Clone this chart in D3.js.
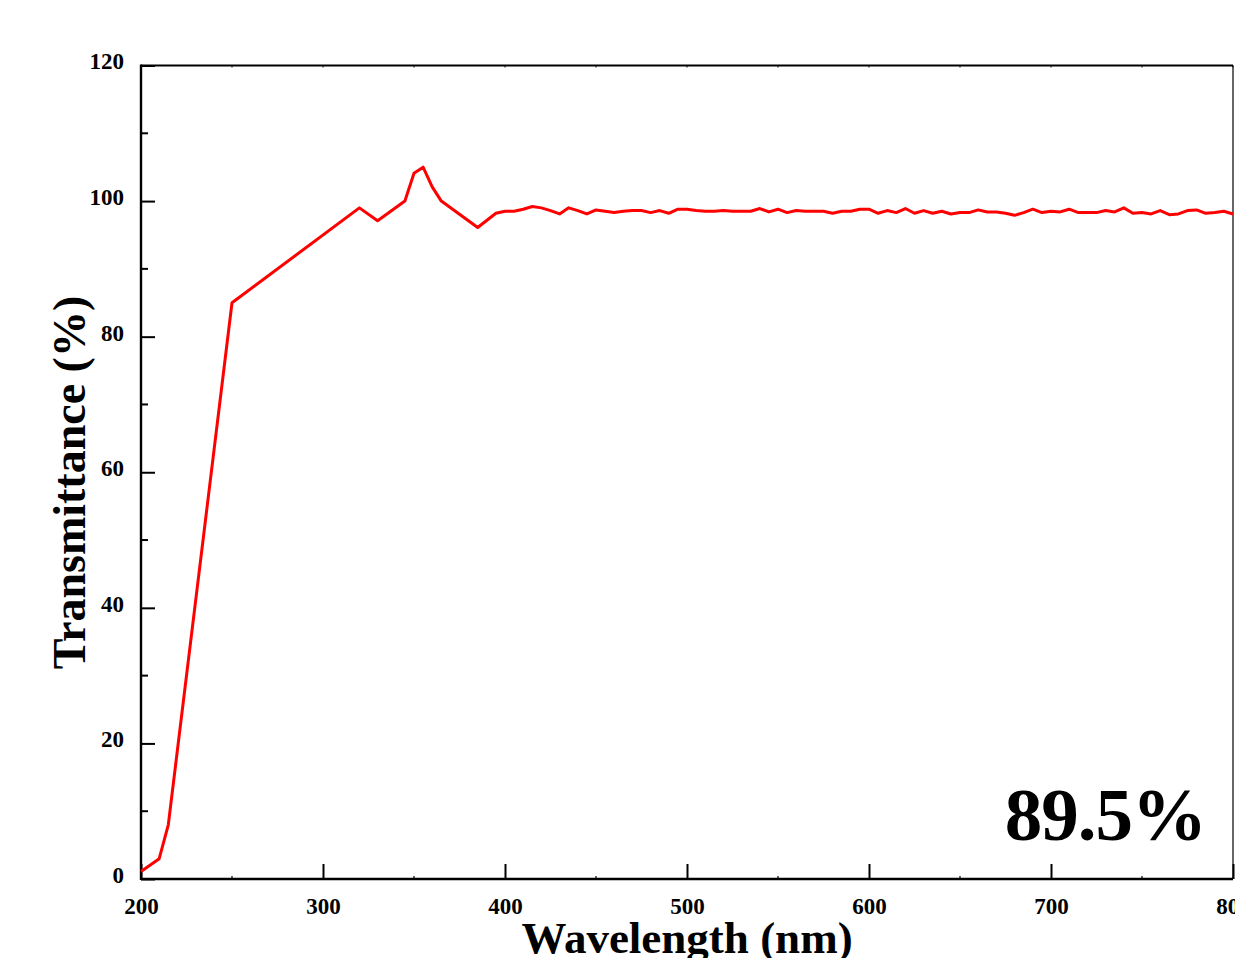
<!DOCTYPE html>
<html>
<head>
<meta charset="utf-8">
<script src="https://cdn.jsdelivr.net/npm/d3@7"></script>
<style>
  html, body { margin: 0; padding: 0; background: #fff; overflow: hidden; }
  text { font-family: "Liberation Serif", "Times New Roman", serif; font-weight: bold; fill: #000; }
</style>
</head>
<body>
<svg id="chart" width="1235" height="958"></svg>
<script>
// wavelength (nm) and transmittance (%)
const wavelength = [200, 210, 215, 250, 320, 330, 345, 350, 355, 360, 365, 385,
  395, 400, 405, 410, 415, 420, 425, 430, 435, 440, 445, 450, 455, 460, 465, 470, 475,
  480, 485, 490, 495, 500, 505, 510, 515, 520, 525, 530, 535, 540, 545, 550, 555, 560,
  565, 570, 575, 580, 585, 590, 595, 600, 605, 610, 615, 620, 625, 630, 635, 640, 645,
  650, 655, 660, 665, 670, 675, 680, 685, 690, 695, 700, 705, 710, 715, 720, 725, 730,
  735, 740, 745, 750, 755, 760, 765, 770, 775, 780, 785, 790, 795, 800];
const transmittance = [1.1, 3.0, 8.0, 85.0, 99.0, 97.1, 100.0, 104.1, 105.0, 102.1, 100.0, 96.1,
  98.2, 98.5, 98.5, 98.8, 99.2, 99.0, 98.6, 98.1, 99.0, 98.6, 98.1, 98.7, 98.5, 98.3, 98.5, 98.6, 98.6,
  98.3, 98.6, 98.2, 98.8, 98.8, 98.6, 98.5, 98.5, 98.6, 98.5, 98.5, 98.5, 98.9, 98.4, 98.8, 98.3, 98.6,
  98.5, 98.5, 98.5, 98.2, 98.5, 98.5, 98.8, 98.8, 98.2, 98.6, 98.3, 98.9, 98.2, 98.6, 98.2, 98.5, 98.1,
  98.3, 98.3, 98.7, 98.4, 98.4, 98.2, 97.9, 98.3, 98.8, 98.3, 98.5, 98.4, 98.8, 98.3, 98.3, 98.3, 98.6,
  98.4, 99.0, 98.2, 98.3, 98.1, 98.6, 98.0, 98.1, 98.6, 98.7, 98.2, 98.3, 98.5, 98.1];

const xTicks = [200, 300, 400, 500, 600, 700, 800];
const xMinor = [250, 350, 450, 550, 650, 750];
const yTicks = [0, 20, 40, 60, 80, 100, 120];
const yMinor = [10, 30, 50, 70, 90, 110];
const xTitle = "Wavelength (nm)";
const yTitle = "Transmittance (%)";
const note = "89.5%";

const data = wavelength.map((w, i) => ({ w: w, t: transmittance[i] }));

const svg = d3.select("#chart");
const plotLeft = 141, plotRight = 1233, plotTop = 65.5, plotBottom = 879;

const x = d3.scaleLinear().domain([200, 800]).range([plotLeft, plotRight]);
const y = d3.scaleLinear().domain([0, 120]).range([plotBottom, plotTop]);

// frame
svg.append("line").attr("x1", plotLeft).attr("x2", plotRight).attr("y1", plotTop).attr("y2", plotTop)
  .attr("stroke", "#000").attr("stroke-width", 2);
svg.append("line").attr("x1", plotRight).attr("x2", plotRight).attr("y1", plotTop).attr("y2", plotBottom)
  .attr("stroke", "#000").attr("stroke-width", 1.2);

// bottom axis, ticks pointing in
const xAxis = svg.append("g")
  .attr("transform", `translate(0,${plotBottom})`)
  .call(d3.axisBottom(x).tickValues(xTicks).tickSize(-15).tickFormat(d3.format("d")));
xAxis.select(".domain").attr("stroke-width", 2.4).attr("d", `M${plotLeft},0H${plotRight}`);
xAxis.selectAll(".tick line").attr("stroke-width", 2);
xAxis.selectAll(".tick text").attr("font-size", 23).attr("dy", "0.71em").attr("y", 19);

svg.append("g").selectAll("line").data(xMinor).join("line")
  .attr("x1", d => x(d)).attr("x2", d => x(d))
  .attr("y1", plotBottom).attr("y2", plotBottom - 3)
  .attr("stroke", "#000").attr("stroke-width", 1.2);
svg.append("g").selectAll("line").data(xTicks.concat(xMinor)).join("line")
  .attr("x1", d => x(d)).attr("x2", d => x(d))
  .attr("y1", plotTop).attr("y2", plotTop + 2)
  .attr("stroke", "#000").attr("stroke-width", 1);

// left axis, ticks pointing in
const yAxis = svg.append("g")
  .attr("transform", `translate(${plotLeft},0)`)
  .call(d3.axisLeft(y).tickValues(yTicks).tickSize(-14).tickFormat(d3.format("d")));
yAxis.select(".domain").attr("stroke-width", 2.4).attr("d", `M0,${plotBottom + 1}V${plotTop - 1}`);
yAxis.selectAll(".tick line").attr("stroke-width", 2);
yAxis.selectAll(".tick text").attr("font-size", 23).attr("x", -17).attr("dy", "0.15em");

svg.append("g").selectAll("line").data(yMinor).join("line")
  .attr("x1", plotLeft).attr("x2", plotLeft + 7)
  .attr("y1", d => y(d)).attr("y2", d => y(d))
  .attr("stroke", "#000").attr("stroke-width", 2);

// data line
const line = d3.line().x(d => x(d.w)).y(d => y(d.t));
svg.append("path")
  .datum(data)
  .attr("fill", "none")
  .attr("stroke", "#ff0000")
  .attr("stroke-width", 3)
  .attr("stroke-linejoin", "round")
  .attr("d", line);

// titles
svg.append("text")
  .attr("x", x(500)).attr("y", 953)
  .attr("text-anchor", "middle")
  .attr("font-size", 45)
  .text(xTitle);

svg.append("text")
  .attr("transform", `translate(85,${(295 + 670) / 2}) rotate(-90)`)
  .attr("text-anchor", "middle")
  .attr("font-size", 46)
  .text(yTitle);

svg.append("text")
  .attr("x", 1206).attr("y", 840)
  .attr("text-anchor", "end")
  .attr("font-size", 75)
  .attr("letter-spacing", -1)
  .text(note);
</script>
</body>
</html>
